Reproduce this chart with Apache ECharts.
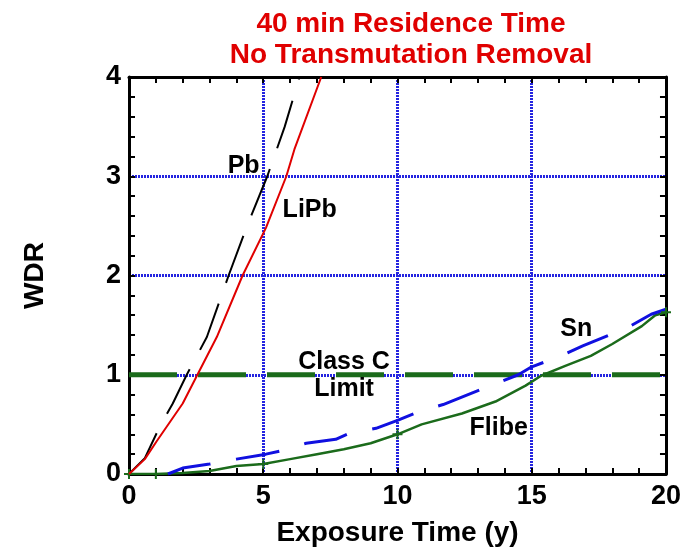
<!DOCTYPE html>
<html>
<head>
<meta charset="utf-8">
<script src="https://cdn.jsdelivr.net/npm/echarts@6/dist/echarts.min.js"></script>
<style>html,body{margin:0;padding:0;background:#fff;}#c{width:684px;height:552px;}</style>
</head>
<body>
<div id="c"></div>
<script>
// ---- data ----
const titleLines = ['40 min Residence Time', 'No Transmutation Removal'];
const xName = 'Exposure Time (y)';
const yName = 'WDR';

const pbX = [0, 0.59, 1.15, 1.63, 2.15, 2.9, 3.71, 4.4, 5.15, 5.8, 6.35];
const pbY = [0, 0.16, 0.48, 0.71, 1.0, 1.38, 2.0, 2.5, 3.0, 3.5, 4.0];

const lipbX = [0, 0.59, 1.03, 2.0, 2.51, 3.27, 4.23, 5.1, 5.86, 6.16, 7.16];
const lipbY = [0, 0.15, 0.33, 0.71, 0.98, 1.38, 2.0, 2.48, 3.0, 3.27, 4.0];

const snX = [1.45, 2.0, 3.0, 4.0, 5.1, 5.6, 6.6, 7.7, 8.2, 9.2, 10.0, 10.8, 11.7, 13.47, 14.5, 15.0, 16.0, 16.9, 18.6, 19.45, 20.0];
const snY = [0.0, 0.06, 0.1, 0.15, 0.2, 0.23, 0.31, 0.35, 0.41, 0.46, 0.54, 0.63, 0.7, 0.89, 1.0, 1.08, 1.18, 1.29, 1.48, 1.61, 1.66];

const flibeX = [0, 1, 2, 3, 4, 5, 6, 7, 8, 9, 10, 10.9, 12.4, 13.65, 14.77, 15.35, 16.25, 17.2, 18.0, 19.1, 19.6, 20];
const flibeY = [0, 0, 0.01, 0.03, 0.08, 0.1, 0.15, 0.2, 0.25, 0.31, 0.4, 0.5, 0.61, 0.73, 0.89, 0.99, 1.09, 1.19, 1.31, 1.49, 1.6, 1.63];
const flibeMarkerX = [0, 1, 5, 10, 20];

const limitX = [0, 20];
const limitY = [1, 1];

const noteTexts = ['Pb', 'LiPb', 'Class C', 'Limit', 'Sn', 'Flibe'];
const noteX = [4.27, 6.73, 8.01, 8.01, 16.66, 13.77];
const noteY = [3.10, 2.66, 1.13, 0.86, 1.46, 0.46];

// ---- build ----
const pairs = (xs, ys) => xs.map((x, i) => [x, ys[i]]);
const FONT = 'Liberation Sans, Arial, sans-serif';
const plusPath = 'path://M4,0h2v4h4v2h-4v4h-2v-4h-4v-2h4z';

const chart = echarts.init(document.getElementById('c'), null, {renderer: 'canvas'});

const tickCommon = {
  axisLine: {show: true, onZero: false, lineStyle: {color: '#000', width: 3}},
  axisTick: {show: true, inside: true, length: 6, lineStyle: {color: '#000', width: 2}},
  minorTick: {show: true, splitNumber: 5, length: 6, lineStyle: {color: '#000', width: 2}},
};
const gridLine = {show: true, lineStyle: {color: '#2424e0', type: [2, 1], width: 3}};

const option = {
  animation: false,
  backgroundColor: '#fff',
  title: {
    text: titleLines.join('\n'),
    left: 406, top: 4, textAlign: 'center',
    textStyle: {color: '#e00000', fontFamily: FONT, fontWeight: 'bold', fontSize: 28, lineHeight: 31}
  },
  grid: {left: 129, right: 16, top: 77, bottom: 74},
  xAxis: [
    Object.assign({
      type: 'value', min: 0, max: 20, interval: 5, position: 'bottom',
      name: xName, nameLocation: 'middle', nameGap: 45,
      nameTextStyle: {color: '#000', fontFamily: FONT, fontWeight: 'bold', fontSize: 28},
      axisLabel: {color: '#000', fontFamily: FONT, fontWeight: 'bold', fontSize: 27, margin: 9},
      splitLine: gridLine
    }, tickCommon),
    Object.assign({
      type: 'value', min: 0, max: 20, interval: 5, position: 'top',
      axisLabel: {show: false}, splitLine: {show: false}
    }, tickCommon)
  ],
  yAxis: [
    Object.assign({
      type: 'value', min: 0, max: 4, interval: 1, position: 'left',
      name: yName, nameLocation: 'middle', nameGap: 80,
      nameTextStyle: {color: '#000', fontFamily: FONT, fontWeight: 'bold', fontSize: 28},
      axisLabel: {color: '#000', fontFamily: FONT, fontWeight: 'bold', fontSize: 27, margin: 8},
      splitLine: gridLine
    }, tickCommon),
    Object.assign({
      type: 'value', min: 0, max: 4, interval: 1, position: 'right',
      axisLabel: {show: false}, splitLine: {show: false}
    }, tickCommon)
  ],
  series: [
    {
      name: 'Class C Limit', type: 'line', data: pairs(limitX, limitY), symbol: 'none',
      lineStyle: {color: '#1b6b1b', width: 5, type: [48, 21]}, z: 3
    },
    {
      name: 'Flibe', type: 'line', data: pairs(flibeX, flibeY).map(p => ({
        value: p, symbol: flibeMarkerX.indexOf(p[0]) >= 0 ? plusPath : 'none'
      })),
      showAllSymbol: true, symbolSize: 10,
      itemStyle: {color: '#1b6b1b'},
      lineStyle: {color: '#1b6b1b', width: 2.5}, z: 4
    },
    {
      name: 'Sn', type: 'line', data: pairs(snX, snY), symbol: 'none',
      lineStyle: {color: '#1010e0', width: 3, type: [44, 26]}, z: 4
    },
    {
      name: 'Pb', type: 'line', data: pairs(pbX, pbY), symbol: 'none',
      lineStyle: {color: '#000', width: 2, type: [50, 22]}, z: 4
    },
    {
      name: 'LiPb', type: 'line', data: pairs(lipbX, lipbY), symbol: 'none',
      lineStyle: {color: '#e00000', width: 2}, z: 5
    },
    {
      name: 'notes', type: 'scatter', symbolSize: 0, silent: true, z: 6,
      itemStyle: {opacity: 1},
      data: noteTexts.map((t, i) => ({value: [noteX[i], noteY[i]], name: t})),
      label: {
        show: true, position: 'inside', formatter: p => p.name,
        color: '#000', opacity: 1, fontFamily: FONT, fontWeight: 'bold', fontSize: 25
      }
    }
  ]
};
chart.setOption(option);
</script>
</body>
</html>
